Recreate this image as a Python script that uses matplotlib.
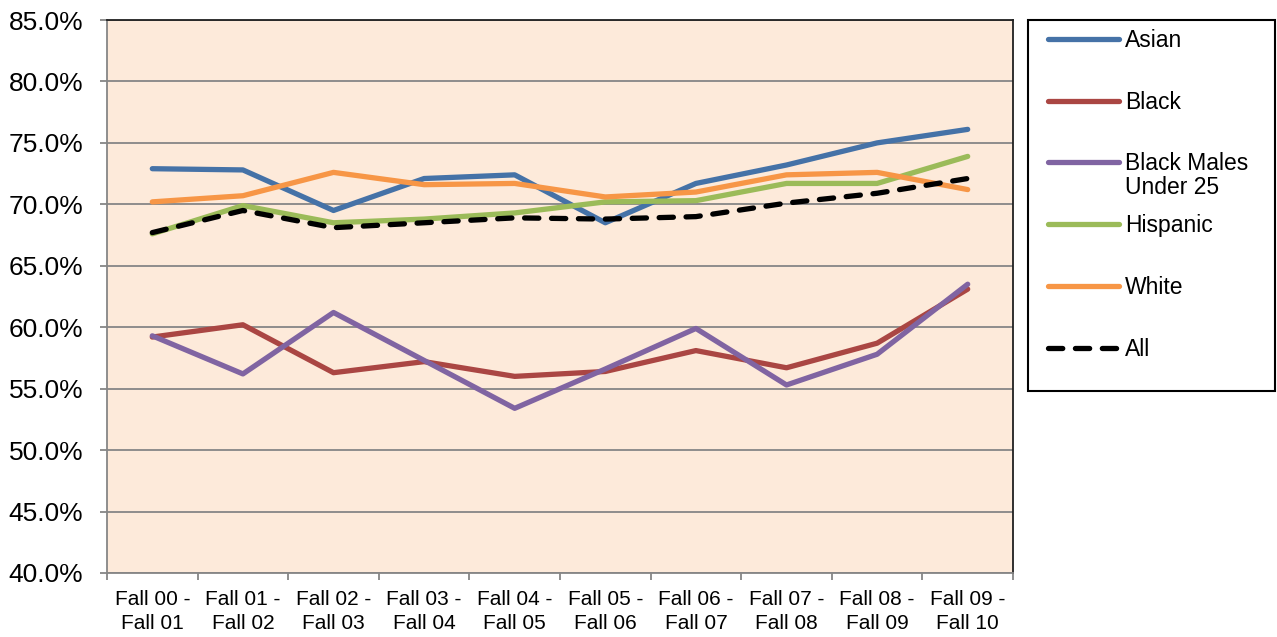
import numpy as np
import matplotlib
matplotlib.use("Agg")
import matplotlib.pyplot as plt
from matplotlib.patches import Rectangle
from matplotlib.ticker import FixedLocator, FuncFormatter

plt.rcParams['font.family'] = ['Liberation Sans', 'DejaVu Sans']

# data (retention rates, %)
periods = ["Fall 00 -\nFall 01", "Fall 01 -\nFall 02", "Fall 02 -\nFall 03", "Fall 03 -\nFall 04",
           "Fall 04 -\nFall 05", "Fall 05 -\nFall 06", "Fall 06 -\nFall 07", "Fall 07 -\nFall 08",
           "Fall 08 -\nFall 09", "Fall 09 -\nFall 10"]
asian = [72.9, 72.8, 69.5, 72.1, 72.4, 68.5, 71.7, 73.2, 75.0, 76.1]
black = [59.2, 60.2, 56.3, 57.2, 56.0, 56.4, 58.1, 56.7, 58.7, 63.1]
black_males_u25 = [59.3, 56.2, 61.2, 57.3, 53.4, 56.6, 59.9, 55.3, 57.8, 63.5]
hispanic = [67.6, 69.9, 68.5, 68.8, 69.3, 70.2, 70.3, 71.7, 71.7, 73.9]
white = [70.2, 70.7, 72.6, 71.6, 71.7, 70.6, 71.0, 72.4, 72.6, 71.2]
all_students = [67.7, 69.5, 68.1, 68.5, 68.9, 68.8, 69.0, 70.1, 70.9, 72.1]

series = [
    ("Asian", asian, "#4572A7", "-"),
    ("Black", black, "#AA4643", "-"),
    ("Black Males", black_males_u25, "#8064A2", "-"),
    ("Hispanic", hispanic, "#9BBB59", "-"),
    ("White", white, "#F79646", "-"),
    ("All", all_students, "black", (0, (2.7, 2.4))),
]

W, H = 1277, 637
fig = plt.figure(figsize=(W / 100, H / 100), dpi=100)
ax = fig.add_axes([107 / W, 64 / H, 906 / W, 553 / H])
ax.set_facecolor("#FDEADA")

x = np.arange(len(periods))
for name, vals, color, ls in series:
    ax.plot(x, vals, color=color, lw=3.8, ls=ls, label=name, solid_capstyle="round",
            dash_capstyle="round")

ax.set_xlim(-0.5, len(periods) - 0.5)
ax.set_ylim(40, 85)
ax.yaxis.set_major_locator(FixedLocator(np.arange(40, 86, 5)))
ax.yaxis.set_major_formatter(FuncFormatter(lambda v, p: f"{v:.1f}%"))
ax.grid(axis="y", color="#868686", lw=1.3)
ax.set_axisbelow(True)

ax.set_xticks(x)
ax.set_xticklabels(periods, fontsize=15, linespacing=1.37)
ax.set_xticks(np.arange(-0.5, len(periods), 1), minor=True)
ax.tick_params(axis="x", which="major", length=0, pad=12)
ax.tick_params(axis="x", which="minor", length=5, width=1.3, color="#868686", direction="out")
ax.tick_params(axis="y", length=5, width=1.3, color="#868686", pad=12)
for lbl in ax.get_yticklabels():
    lbl.set_family(["Liberation Sans Narrow", "Liberation Sans"])
    lbl.set_fontsize(19)

for s in ["left", "bottom"]:
    ax.spines[s].set_color("#868686")
    ax.spines[s].set_linewidth(1.3)
for s in ["top", "right"]:
    ax.spines[s].set_color("#202020")
    ax.spines[s].set_linewidth(1.3)

# legend: frame drawn separately so it matches the reference box
fs = 16.5
leg = fig.legend(loc="upper left", bbox_to_anchor=(1042 / W, 1 - 23 / H), borderaxespad=0,
                 fontsize=fs, frameon=False, handlelength=3.1, handletextpad=0.26,
                 labelspacing=1.69, borderpad=0.26)
fig.add_artist(Rectangle((1028 / W, 1 - 391 / H), 247 / W, 371 / H, transform=fig.transFigure,
                         fill=False, edgecolor="black", lw=1.5))

# second line of the "Black Males" label sits just below the first, as in the reference
fig.canvas.draw()
bb = leg.get_texts()[2].get_window_extent()
fig.text(bb.x0 / W, (bb.y0 - 24) / H, "Under 25", fontsize=fs, ha="left", va="bottom")

fig.savefig("out.png", dpi=100)
